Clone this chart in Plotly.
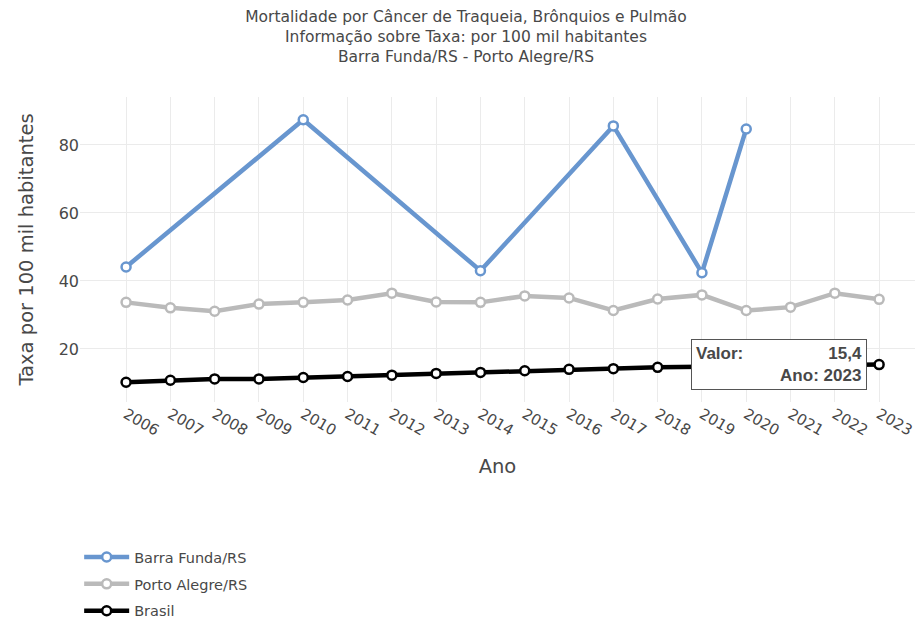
import plotly.graph_objects as go

anos = list(range(2006, 2024))

barra_anos = [2006, 2010, 2014, 2017, 2019, 2020]
barra_vals = [44.1, 87.4, 43.0, 85.6, 42.4, 84.7]

porto_vals = [33.7, 32.1, 31.1, 33.2, 33.7, 34.4, 36.4, 33.8, 33.7, 35.6,
              35.0, 31.3, 34.7, 35.9, 31.3, 32.3, 36.4, 34.6]

brasil_vals = [10.2, 10.8, 11.2, 11.2, 11.6, 11.9, 12.3, 12.8, 13.1, 13.6,
               14.0, 14.2, 14.6, 14.8, 15.0, 15.1, 15.3, 15.4]

tick_labels = [str(a) for a in anos]

FONT = "DejaVu Sans"
TXT = "#484848"

fig = go.Figure()

def add(xs, ys, name, color):
    fig.add_trace(go.Scatter(
        x=xs, y=ys, name=name, mode="lines+markers", legendgroup=name,
        line=dict(color=color, width=4.5),
        marker=dict(symbol="circle", size=9, color="white",
                    line=dict(color=color, width=2.5)),
    ))

add(barra_anos, barra_vals, "Barra Funda/RS", "#6896cf")
add(anos, porto_vals, "Porto Alegre/RS", "#bababa")
add(anos, brasil_vals, "Brasil", "#000000")

# tooltip-like annotation at last Brasil point
nb = "&nbsp;" * 18
fig.add_annotation(
    x=anos[-1], y=brasil_vals[-1], xref="x", yref="y",
    text=f"<b>Valor:{nb}{str(brasil_vals[-1]).replace('.', ',')}</b><br><b>Ano: {anos[-1]}</b>",
    showarrow=False, xanchor="right", yanchor="middle", xshift=-12,
    align="right", bgcolor="white", bordercolor="#555555", borderwidth=1,
    borderpad=4, font=dict(family="Liberation Sans", size=17, color=TXT),
)

fig.update_layout(
    width=915, height=618,
    paper_bgcolor="white", plot_bgcolor="white",
    margin=dict(l=80, r=0, t=97, b=216, autoexpand=False),
    font=dict(family=FONT, color=TXT),
    title=dict(
        text="Mortalidade por Câncer de Traqueia, Brônquios e Pulmão<br>"
             "Informação sobre Taxa: por 100 mil habitantes<br>"
             "Barra Funda/RS - Porto Alegre/RS",
        x=466 / 915, xanchor="center", xref="container",
        y=1 - 22 / 618, yanchor="top",
        yref="container", font=dict(family=FONT, size=15.5, color=TXT),
    ),
    xaxis=dict(
        range=[2004.96, 2023.81], tickmode="array", tickvals=anos,
        ticktext=tick_labels, tickangle=30, showgrid=True, automargin=False,
        gridcolor="#ebebeb", zeroline=False, showline=False,
        ticklabeloverflow="allow",
        tickfont=dict(family=FONT, size=15, color=TXT),
        title=dict(text="Ano", font=dict(family=FONT, size=19.5, color=TXT), standoff=20),
    ),
    yaxis=dict(
        range=[4.4, 94.1], tickvals=[20, 40, 60, 80], showgrid=True,
        gridcolor="#ebebeb", zeroline=False, showline=False, automargin=False,
        tickfont=dict(family=FONT, size=16, color=TXT),
        title=dict(text="Taxa por 100 mil habitantes",
                   font=dict(family=FONT, size=19.5, color=TXT), standoff=19),
    ),
    legend=dict(
        x=-0.001, y=-0.456, xanchor="left", yanchor="top",
        orientation="v", font=dict(family=FONT, size=14.5, color=TXT),
        bgcolor="rgba(0,0,0,0)", tracegroupgap=5, itemwidth=45,
    ),
    hovermode="closest",
)

fig.write_html("out.html", config={"displayModeBar": False})

with open("out.html", encoding="utf-8") as f:
    html = f.read()
html = html.replace("<body>", '<body style="margin:0;padding:0;">', 1)
with open("out.html", "w", encoding="utf-8") as f:
    f.write(html)
